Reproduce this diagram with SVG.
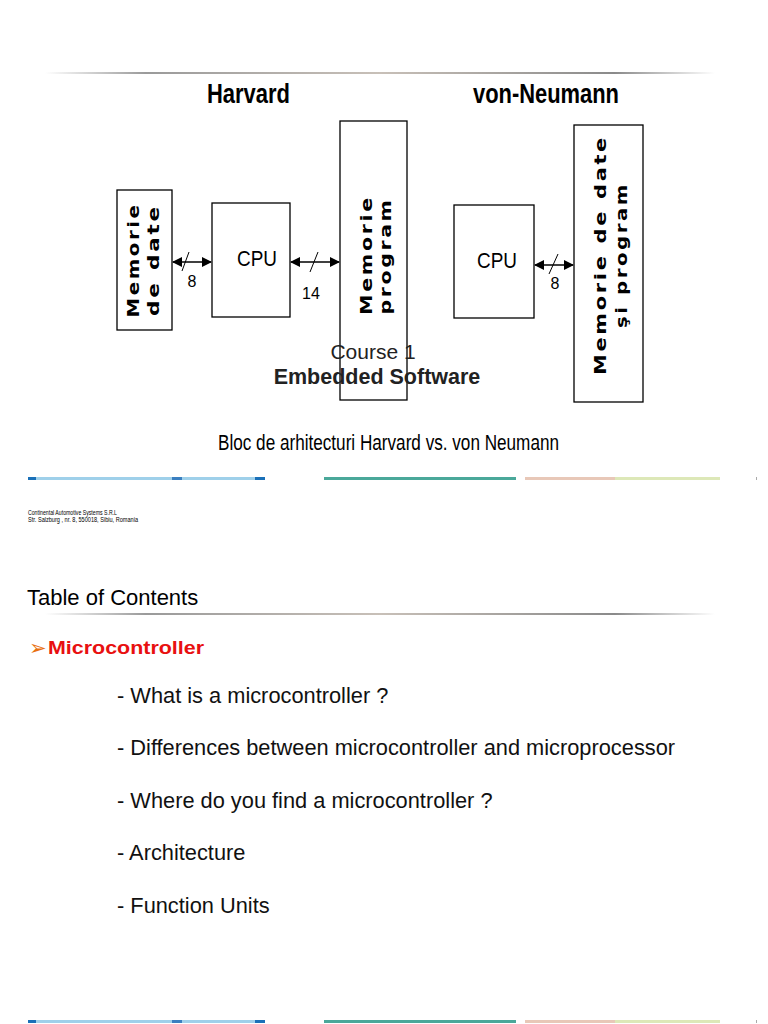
<svg xmlns="http://www.w3.org/2000/svg" width="768" height="1024" viewBox="0 0 768 1024">
<defs>
<linearGradient id="rule" x1="0" x2="1" y1="0" y2="0">
<stop offset="0" stop-color="#ffffff"/>
<stop offset="0.15" stop-color="#9a9a9a"/>
<stop offset="0.5" stop-color="#c8c0b8"/>
<stop offset="0.85" stop-color="#8a8a8a"/>
<stop offset="1" stop-color="#ffffff"/>
</linearGradient>
<marker id="ah" viewBox="0 0 10 10" refX="9" refY="5" markerWidth="10" markerHeight="10" markerUnits="userSpaceOnUse" orient="auto-start-reverse">
<path d="M0,0 L10,5 L0,10 z" fill="#000"/>
</marker>
<style>
.box{fill:#fff;stroke:#000;stroke-width:1.3}
.mem{font-family:"DejaVu Sans","Liberation Sans",sans-serif;font-weight:bold;font-size:15.5px;letter-spacing:2px;fill:#000}
.cpu{font-family:"Liberation Sans",sans-serif;font-size:22px;fill:#000}
.lbl{font-family:"Liberation Sans",sans-serif;font-size:16px;fill:#000}
.cond{font-family:"Liberation Sans",sans-serif;font-weight:bold;fill:#000}
.bus{stroke:#000;stroke-width:1.5;fill:none}
.sl{stroke:#000;stroke-width:1;fill:none}
.item{font-family:"Liberation Sans",sans-serif;font-size:21.8px;fill:#111}
</style>
</defs>
<rect width="768" height="1024" fill="#fff"/>
<rect x="45" y="72" width="670" height="2" fill="url(#rule)"/>
<text x="207" y="103" class="cond" font-size="27" textLength="83" lengthAdjust="spacingAndGlyphs">Harvard</text>
<text x="473" y="103" class="cond" font-size="27" textLength="146" lengthAdjust="spacingAndGlyphs">von-Neumann</text>

<g id="mem-date">
<rect class="box" x="117" y="190" width="55" height="140"/>
<text class="mem" transform="translate(139,260) rotate(-90)" text-anchor="middle" textLength="115" lengthAdjust="spacingAndGlyphs">Memorie</text>
<text class="mem" transform="translate(159,260) rotate(-90)" text-anchor="middle" textLength="112" lengthAdjust="spacingAndGlyphs">de date</text>
</g>
<g id="cpu-h">
<rect class="box" x="212" y="203" width="78" height="114"/>
<text class="cpu" x="257" y="266" text-anchor="middle" textLength="40" lengthAdjust="spacingAndGlyphs">CPU</text>
</g>
<g id="mem-prog">
<rect class="box" x="340" y="121" width="67" height="279"/>
<text class="mem" transform="translate(372,255) rotate(-90)" text-anchor="middle" textLength="120" lengthAdjust="spacingAndGlyphs">Memorie</text>
<text class="mem" transform="translate(391,256) rotate(-90)" text-anchor="middle" textLength="117" lengthAdjust="spacingAndGlyphs">program</text>
</g>
<g id="cpu-vn">
<rect class="box" x="454" y="205" width="80" height="113"/>
<text class="cpu" x="497" y="268" text-anchor="middle" textLength="40" lengthAdjust="spacingAndGlyphs">CPU</text>
</g>
<g id="mem-vn">
<rect class="box" x="574" y="125" width="69" height="277"/>
<text class="mem" transform="translate(606,255) rotate(-90)" text-anchor="middle" textLength="240" lengthAdjust="spacingAndGlyphs">Memorie de date</text>
<text class="mem" transform="translate(627,255) rotate(-90)" text-anchor="middle" textLength="146" lengthAdjust="spacingAndGlyphs">şi program</text>
</g>

<g id="connectors">
<line class="bus" x1="173" y1="262" x2="211" y2="262" marker-start="url(#ah)" marker-end="url(#ah)"/>
<line class="sl" x1="182" y1="271" x2="189" y2="252"/>
<text class="lbl" x="192" y="287" text-anchor="middle">8</text>
<line class="bus" x1="291" y1="262" x2="339" y2="262" marker-start="url(#ah)" marker-end="url(#ah)"/>
<line class="sl" x1="310" y1="272" x2="318" y2="252"/>
<text class="lbl" x="311" y="299" text-anchor="middle">14</text>
<line class="bus" x1="535" y1="265" x2="573" y2="265" marker-start="url(#ah)" marker-end="url(#ah)"/>
<line class="sl" x1="549" y1="274" x2="558" y2="254"/>
<text class="lbl" x="555" y="289" text-anchor="middle">8</text>
</g>

<text x="373" y="359" text-anchor="middle" font-family="Liberation Sans, sans-serif" font-size="21" fill="#222">Course 1</text>
<text x="377" y="384" text-anchor="middle" font-family="Liberation Sans, sans-serif" font-size="21.5" font-weight="bold" fill="#222">Embedded Software</text>
<text x="218" y="450" font-family="Liberation Sans, sans-serif" font-size="22" fill="#000" textLength="341" lengthAdjust="spacingAndGlyphs">Bloc de arhitecturi Harvard vs. von Neumann</text>

<g id="strip1">
<rect x="28" y="477" width="237" height="3" fill="#9fd0ea"/>
<rect x="28" y="477" width="8" height="3" fill="#1a70b8"/>
<rect x="172" y="477" width="10" height="3" fill="#3a7fc0"/>
<rect x="255" y="477" width="10" height="3" fill="#1a70b8"/>
<rect x="324" y="477" width="192" height="3" fill="#4aa89a"/>
<rect x="525" y="477" width="90" height="3" fill="#e8c8b8"/>
<rect x="615" y="477" width="105" height="3" fill="#dde8b8"/>
<rect x="756" y="477" width="1" height="3" fill="#aaa"/>
</g>
<text x="28" y="515" font-family="Liberation Sans, sans-serif" font-size="6.5" fill="#000" textLength="89" lengthAdjust="spacingAndGlyphs">Continental Automotive Systems S.R.L</text>
<text x="28" y="522" font-family="Liberation Sans, sans-serif" font-size="6.5" fill="#000" textLength="110" lengthAdjust="spacingAndGlyphs">Str. Salzburg , nr. 8, 550018, Sibiu, Romania</text>

<text x="27" y="605" font-family="Liberation Sans, sans-serif" font-size="22" fill="#000">Table of Contents</text>
<rect x="45" y="613" width="670" height="2" fill="url(#rule)"/>
<text x="29" y="655" font-family="DejaVu Sans, sans-serif" font-size="21" fill="#e87010">➢</text>
<text x="48" y="654" font-family="Liberation Sans, sans-serif" font-size="19" font-weight="bold" fill="#e81010" textLength="156" lengthAdjust="spacingAndGlyphs">Microcontroller</text>

<text class="item" x="117" y="703">- What is a microcontroller ?</text>
<text class="item" x="117" y="755">- Differences between microcontroller and microprocessor</text>
<text class="item" x="117" y="808">- Where do you find a microcontroller ?</text>
<text class="item" x="117" y="860">- Architecture</text>
<text class="item" x="117" y="913">- Function Units</text>

<g id="strip2">
<rect x="28" y="1020" width="237" height="3" fill="#9fd0ea"/>
<rect x="28" y="1020" width="8" height="3" fill="#1a70b8"/>
<rect x="172" y="1020" width="10" height="3" fill="#3a7fc0"/>
<rect x="255" y="1020" width="10" height="3" fill="#1a70b8"/>
<rect x="324" y="1020" width="192" height="3" fill="#4aa89a"/>
<rect x="525" y="1020" width="90" height="3" fill="#e8c8b8"/>
<rect x="615" y="1020" width="105" height="3" fill="#dde8b8"/>
<rect x="756" y="1020" width="1" height="3" fill="#aaa"/>
</g>
</svg>
